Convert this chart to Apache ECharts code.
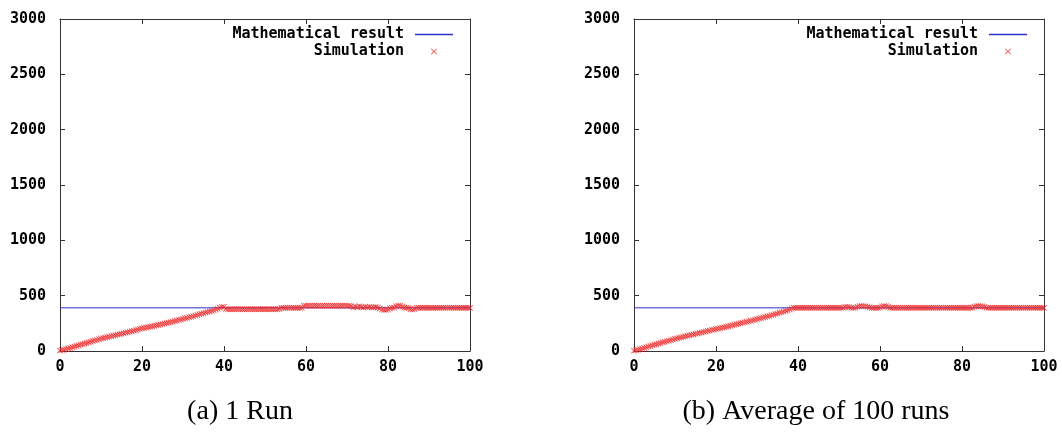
<!DOCTYPE html>
<html>
<head>
<meta charset="utf-8">
<script src="https://cdn.jsdelivr.net/npm/echarts@6/dist/echarts.min.js"></script>
<style>
  html, body { margin: 0; padding: 0; background: #fff; }
  #chart { width: 1062px; height: 438px; }
</style>
</head>
<body>
<div id="chart"></div>
<script>
// x step of the simulation samples
const simStep = 0.5

// value of the analytical solution (flat line)
const mathResult = 390

// (a) 1 Run - simulated values, x = 0, 0.5, ... 100
const simOneRun = [
  5, 8, 12, 18, 24, 28, 35, 40, 46, 50, 58, 62, 68, 72, 80, 84, 90, 95, 100, 106,
  112, 116, 121, 125, 130, 134, 140, 143, 148, 152, 157, 160, 166, 170, 175, 178, 184, 188, 195, 200,
  205, 208, 212, 216, 220, 224, 228, 232, 236, 240, 244, 248, 252, 256, 260, 265, 270, 275, 280, 285,
  290, 295, 300, 305, 310, 314, 320, 326, 332, 337, 342, 348, 352, 358, 362, 368, 375, 382, 390, 398,
  400,
  380, 378, 378, 377, 378, 379, 378, 377, 378, 378, 377, 378, 379, 378, 378, 377, 378, 378, 379, 378,
  377, 378, 378, 379, 378, 378, 380,
  390, 390, 389, 390, 391, 390, 390, 389, 390, 390, 391,
  408, 410, 410, 409, 410, 411, 410, 410, 409, 410, 410, 411, 410, 409, 410, 410, 410, 409, 410, 410,
  411, 410, 408, 405,
  395, 402, 396, 404, 398, 392, 400, 396, 400, 392, 395, 398, 392, 385,
  375, 372, 372, 375, 385,
  390, 392,
  405, 410, 408, 400,
  392, 390, 388,
  378, 375, 380,
  390, 390, 390, 391, 390, 390, 390, 390, 389, 390, 390, 390, 390, 390, 390, 391, 390, 390, 390, 390,
  390, 390, 389, 390, 390, 390, 390
]

// (b) Average of 100 runs - simulated values, x = 0, 0.5, ... 100
const simAverage = [
  3, 7, 12, 17, 22, 28, 34, 40, 45, 51, 57, 62, 67, 72, 78, 83, 88, 93, 98, 104,
  110, 114, 119, 124, 128, 133, 137, 142, 146, 150, 155, 159, 163, 168, 172, 176, 181, 185, 190, 194,
  198, 202, 207, 211, 215, 220, 224, 228, 233, 237, 242, 246, 251, 255, 260, 264, 269, 273, 278, 283,
  288, 293, 298, 303, 308, 313, 318, 323, 328, 334, 339, 345, 350, 356, 362, 368, 376, 384,
  390, 390, 390, 390, 390, 390, 390, 390, 390, 390, 390, 390, 390, 390, 390, 390, 390, 390, 390, 390,
  390, 390, 390, 390, 390,
  398, 400, 396,
  390, 390, 391,
  400, 405, 406, 405, 404, 400, 395,
  390, 389, 390, 390, 392,
  402, 406, 405, 398,
  390, 390, 390, 390, 390, 390, 390, 390, 390, 390, 390, 390, 390, 390, 390, 390, 390, 390, 390, 390,
  390, 390, 390, 390, 390, 390, 390, 390, 390, 390, 390, 390, 390, 390, 390, 390, 390, 390, 390, 390,
  390,
  400, 405, 406, 405, 404, 398,
  390, 390, 390, 390, 390, 390, 390, 390, 390, 390, 390, 390, 390, 390, 390, 390, 390, 390, 390, 390,
  390, 390, 390, 390, 390, 390, 390, 390, 390
]

const captions = ['(a) 1 Run', '(b) Average of 100 runs']

const monoFont = '"DejaVu Sans Mono", "Liberation Mono", monospace'
const axisColor = '#333'
const lineColor = '#2f2fd0'
const crossIcon = 'path://M0,1L1,0L5,4L9,0L10,1L6,5L10,9L9,10L5,6L1,10L0,9L4,5Z'
const lineIcon = 'path://M0,0H38V1.5H0Z'

function toPoints(values) {
  return values.map((v, i) => [i * simStep, v])
}

function xAxes(gridIndex) {
  const base = {
    gridIndex: gridIndex,
    type: 'value',
    min: 0,
    max: 100,
    interval: 20,
    axisLine: { show: true, onZero: false, lineStyle: { color: axisColor, width: 1 } },
    axisTick: { show: true, inside: true, length: 5, lineStyle: { color: axisColor } },
    splitLine: { show: false }
  }
  return [
    Object.assign({}, base, {
      position: 'bottom',
      axisLabel: { fontFamily: monoFont, fontWeight: 'bold', fontSize: 15, color: '#000', margin: 9 }
    }),
    Object.assign({}, base, { position: 'top', axisLabel: { show: false } })
  ]
}

function yAxes(gridIndex) {
  const base = {
    gridIndex: gridIndex,
    type: 'value',
    min: 0,
    max: 3000,
    interval: 500,
    axisLine: { show: true, onZero: false, lineStyle: { color: axisColor, width: 1 } },
    axisTick: { show: true, inside: true, length: 5, lineStyle: { color: axisColor } },
    splitLine: { show: false }
  }
  return [
    Object.assign({}, base, {
      position: 'left',
      axisLabel: {
        fontFamily: monoFont, fontWeight: 'bold', fontSize: 15, color: '#000', margin: 14,
        formatter: (v) => String(v)
      }
    }),
    Object.assign({}, base, { position: 'right', axisLabel: { show: false } })
  ]
}

function seriesFor(gridIndex, simValues) {
  const ax = gridIndex * 2
  return [
    {
      name: 'Mathematical result',
      type: 'line',
      xAxisIndex: ax,
      yAxisIndex: ax,
      data: [[0, mathResult], [100, mathResult]],
      symbol: 'none',
      lineStyle: { color: lineColor, width: 1 },
      itemStyle: { color: lineColor },
      silent: true,
      z: 2
    },
    {
      name: 'Simulation',
      type: 'scatter',
      xAxisIndex: ax,
      yAxisIndex: ax,
      data: toPoints(simValues),
      symbol: crossIcon,
      symbolSize: 6,
      itemStyle: { color: '#f02828', opacity: 0.85 },
      silent: true,
      z: 3
    }
  ]
}

function legendFor(right) {
  return {
    orient: 'vertical',
    right: right,
    top: 22,
    align: 'right',
    itemWidth: 38,
    itemHeight: 6,
    itemGap: 2,
    selectedMode: false,
    textStyle: { fontFamily: monoFont, fontWeight: 'bold', fontSize: 15, color: '#000', padding: [0, 6, 0, 0] },
    data: [
      { name: 'Mathematical result', icon: lineIcon, itemStyle: { color: lineColor } },
      { name: 'Simulation', icon: crossIcon, itemStyle: { color: '#f02828' } }
    ]
  }
}

const chart = echarts.init(document.getElementById('chart'))

chart.setOption({
  animation: false,
  backgroundColor: '#fff',
  grid: [
    { left: 60, top: 19, width: 410, height: 332 },
    { left: 634, top: 19, width: 410, height: 332 }
  ],
  xAxis: xAxes(0).concat(xAxes(1)),
  yAxis: yAxes(0).concat(yAxes(1)),
  legend: [legendFor(604), legendFor(30)],
  series: seriesFor(0, simOneRun).concat(seriesFor(1, simAverage)),
  graphic: [
    {
      type: 'text',
      x: 240,
      y: 412,
      style: { text: captions[0], fontFamily: '"Liberation Serif", serif', fontSize: 28, fill: '#000', align: 'center', verticalAlign: 'middle' }
    },
    {
      type: 'text',
      x: 816,
      y: 412,
      style: { text: captions[1], fontFamily: '"Liberation Serif", serif', fontSize: 28, fill: '#000', align: 'center', verticalAlign: 'middle' }
    }
  ]
})
</script>
</body>
</html>
